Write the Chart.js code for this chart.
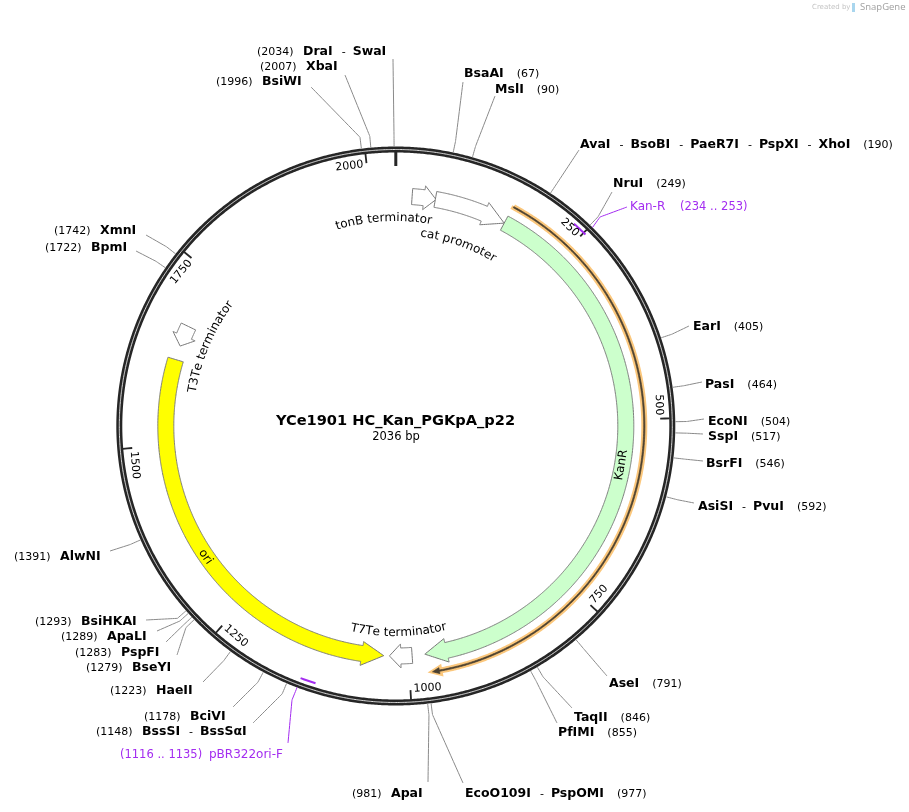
<!DOCTYPE html>
<html>
<head>
<meta charset="utf-8">
<style>
  html, body { margin: 0; padding: 0; background: #fff; }
  canvas { display: block; }
</style>
<script src="https://cdn.jsdelivr.net/npm/chart.js@4/dist/chart.umd.js"></script>
</head>
<body>
<canvas id="map" width="909" height="812"></canvas>
<script>
const plasmidName = 'YCe1901 HC_Kan_PGKpA_p22';
const plasmidLength = 2036;

const tickPositions = [250, 500, 750, 1000, 1250, 1500, 1750, 2000];

const siteLabels = ['DraI - SwaI', 'XbaI', 'BsiWI', 'BsaAI', 'MslI', 'AvaI - BsoBI - PaeR7I - PspXI - XhoI', 'NruI', 'EarI', 'PasI', 'EcoNI', 'SspI', 'BsrFI', 'AsiSI - PvuI', 'AseI', 'TaqII', 'PfIMI', 'EcoO109I - PspOMI', 'ApaI', 'BssSI - BssSαI', 'BciVI', 'HaeII', 'BseYI', 'PspFI', 'ApaLI', 'BsiHKAI', 'AlwNI', 'BpmI', 'XmnI'];
const sitePositions = [2034, 2007, 1996, 67, 90, 190, 249, 405, 464, 504, 517, 546, 592, 791, 846, 855, 977, 981, 1148, 1178, 1223, 1279, 1283, 1289, 1293, 1391, 1722, 1742];

const featureNames = ['tonB terminator', 'cat promoter', 'KanR', 'T7Te terminator', 'ori', 'T3Te terminator'];
const featureFrom = [23, 56, 159, 995, 1622, 1672];
const featureTo = [57, 159, 977, 1027, 1035, 1642];
const featureColors = ['#ffffff', '#ffffff', '#ccffcc', '#ffffff', '#ffff00', '#ffffff'];

const orfFrom = 160;
const orfTo = 970;

const primerNames = ['Kan-R', 'pBR322ori-F'];
const primerFrom = [234, 1116];
const primerTo = [253, 1135];

// layout, same order as siteLabels: where the name starts, where its leader stops
const siteNameX = [303, 306, 262, 464, 495, 580, 613, 693, 705, 708, 708, 706, 698, 609, 574, 558, 465, 391, 142, 190, 156, 132, 121, 107, 81, 60, 91, 100];
const siteNameY = [52, 67, 82, 74, 90, 145, 184, 327, 385, 422, 437, 464, 507, 684, 718, 733, 794, 794, 732, 717, 691, 668, 653, 637, 622, 557, 248, 231];
const leaderEndX = [393, 345, 311, 463, 495, 579, 612, 689, 702, 704, 703, 703, 694, 607, 572, 557, 463, 428, 253, 233, 203, 177, 166, 157, 146, 110, 136, 146];
const leaderEndY = [59, 75, 87, 82, 96, 150, 192, 326, 382, 419, 434, 461, 503, 676, 708, 723, 783, 782, 723, 707, 682, 655, 642, 631, 620, 551, 251, 235];

const cx = 395.8, cy = 426;
const ringR = 276.5, featureR = 230, orfR = 248.5, primerR = 269.5, elbowR = 291;
const inkFont = 'DejaVu Sans, Verdana, sans-serif';
const purple = '#a32cf0';

function toAngle(bp) {
  return bp / plasmidLength * 2 * Math.PI;
}

function polar(bp, r) {
  const a = toAngle(bp);
  return { x: cx + r * Math.sin(a), y: cy - r * Math.cos(a) };
}

function arc(from, to, r) {
  const pts = [];
  const n = Math.max(2, Math.ceil(Math.abs(to - from) / 4));
  for (let i = 0; i <= n; i++) pts.push(polar(from + (to - from) * i / n, r));
  return pts;
}

function arrowShape(from, to, rMid, body, head, headPx) {
  const bpPerPx = plasmidLength / (2 * Math.PI * rMid);
  const dir = to > from ? 1 : -1;
  const headLen = Math.min(headPx, Math.abs(to - from) / bpPerPx / 2) * bpPerPx;
  const base = to - dir * headLen;
  return [
    ...arc(from, base, rMid + body),
    polar(base, rMid + head),
    polar(to, rMid),
    polar(base, rMid - head),
    ...arc(base, from, rMid - body),
    polar(from, rMid + body)
  ];
}

const datasets = [];

// the tiny tension keeps Chart.js off its fast path, which merges points sharing an x pixel
function addLine(data, color, width, extra) {
  datasets.push(Object.assign({
    data,
    borderColor: color,
    borderWidth: width,
    showLine: true,
    pointRadius: 0,
    tension: 0.0001,
    fill: false,
    order: -datasets.length
  }, extra || {}));
}

addLine(arc(0, plasmidLength, ringR), '#262626', 6);
addLine(arc(0, plasmidLength, ringR), '#f4f4f4', 0.9);

addLine([polar(0, 274), polar(0, 260)], '#262626', 3);
tickPositions.forEach(bp => addLine([polar(bp, 274), polar(bp, 264.5)], '#262626', 1.8));

siteLabels.forEach((name, i) => {
  const bp = sitePositions[i];
  addLine([polar(bp, 279.5), polar(bp, elbowR), { x: leaderEndX[i], y: leaderEndY[i] }], '#8a8a8a', 1);
});

featureNames.forEach((name, i) => {
  addLine(arrowShape(featureFrom[i], featureTo[i], featureR, 8, 12, 22), '#777777', 1, {
    fill: 'shape',
    backgroundColor: featureColors[i]
  });
});

addLine(arrowShape(orfFrom, orfTo, orfR, 1, 3.5, 8), '#fbc77c', 4, { fill: 'shape', backgroundColor: '#fbc77c' });
addLine(arrowShape(orfFrom, orfTo, orfR, 0.6, 3, 7), '#4a4030', 0.8, { fill: 'shape', backgroundColor: '#4a4030' });

primerNames.forEach((name, i) => {
  addLine(arc(primerFrom[i], primerTo[i], primerR), purple, 2);
});
addLine([polar(primerTo[0], 279.5), { x: 600, y: 217 }, { x: 627, y: 207 }], purple, 1);
addLine([polar(primerTo[1], 279.5), { x: 292, y: 700 }, { x: 288, y: 743 }], purple, 1);

function rotatedText(ctx, text, x, y, deg, font, color, align) {
  ctx.save();
  ctx.translate(x, y);
  ctx.rotate(deg * Math.PI / 180);
  ctx.font = font;
  ctx.fillStyle = color;
  ctx.textAlign = align || 'center';
  ctx.textBaseline = 'middle';
  ctx.fillText(text, 0, 0);
  ctx.restore();
}

function tangentDeg(deg) {
  if (deg < 90) return deg;
  if (deg < 270) return deg - 180;
  return deg - 360;
}

// text bent along a circle; top of the letters faces out unless flipped
function arcText(ctx, text, deg, r, font, flipped) {
  ctx.save();
  ctx.font = font;
  ctx.fillStyle = '#000';
  ctx.textAlign = 'left';
  ctx.textBaseline = 'alphabetic';
  const total = ctx.measureText(text).width;
  let run = 0;
  for (const ch of text) {
    const w = ctx.measureText(ch).width;
    const off = (run + w / 2 - total / 2) / r;
    const a = deg * Math.PI / 180 + (flipped ? -off : off);
    ctx.save();
    ctx.translate(cx + r * Math.sin(a), cy - r * Math.cos(a));
    ctx.rotate(flipped ? a - Math.PI : a);
    ctx.fillText(ch, -w / 2, 0);
    ctx.restore();
    run += w;
  }
  ctx.restore();
}

function plainText(ctx, text, x, y, font, color, align) {
  ctx.font = font;
  ctx.fillStyle = color;
  ctx.textAlign = align || 'left';
  ctx.textBaseline = 'middle';
  ctx.fillText(text, x, y);
  return ctx.measureText(text).width;
}

const boldFont = 'bold 12.5px ' + inkFont;
const numFont = '11px ' + inkFont;
const primerNumFont = '11.5px ' + inkFont;

const textLayer = {
  id: 'textLayer',
  afterDatasetsDraw(chart) {
    const ctx = chart.ctx;
    ctx.save();

    // tick numbers always run on the counter-clockwise side of their tick
    tickPositions.forEach(bp => {
      const deg = bp / plasmidLength * 360;
      const top = deg < 90 || deg > 270;
      const p = polar(bp - 4, 263.5);
      rotatedText(ctx, String(bp), p.x, p.y, tangentDeg(deg), numFont, '#000', top ? 'right' : 'left');
    });

    siteLabels.forEach((label, i) => {
      const bp = sitePositions[i];
      const y = siteNameY[i];
      const num = '(' + bp + ')';
      let x = siteNameX[i];
      if (bp > 977) {
        ctx.font = numFont;
        plainText(ctx, num, x - 9.4 - ctx.measureText(num).width, y, numFont, '#000');
      }
      label.split(' - ').forEach((name, j) => {
        if (j > 0) {
          plainText(ctx, '-', x + 9, y, numFont, '#000');
          x += 20;
        }
        x += plainText(ctx, name, x, y, boldFont, '#000');
      });
      if (bp <= 977) plainText(ctx, num, x + 13, y, numFont, '#000');
    });

    plainText(ctx, primerNames[0], 630, 207, '12px ' + inkFont, purple);
    plainText(ctx, '(' + primerFrom[0] + ' .. ' + primerTo[0] + ')', 680, 207, primerNumFont, purple);
    plainText(ctx, primerNames[1], 209, 755, '12px ' + inkFont, purple);
    plainText(ctx, '(' + primerFrom[1] + ' .. ' + primerTo[1] + ')', 120, 755, primerNumFont, purple);

    const featFont = '12px ' + inkFont;
    arcText(ctx, featureNames[0], -3.4, 205, featFont, false);
    arcText(ctx, featureNames[1], 19, 191, featFont, false);
    arcText(ctx, featureNames[5], 292.8, 203, featFont, false);
    arcText(ctx, featureNames[3], 179.5, 210, featFont, true);
    rotatedText(ctx, featureNames[2], cx + 229 * Math.sin(99.8 * Math.PI / 180), cy - 229 * Math.cos(99.8 * Math.PI / 180), -80.7, featFont, '#000');
    rotatedText(ctx, featureNames[4], cx + 231 * Math.sin(235.5 * Math.PI / 180), cy - 231 * Math.cos(235.5 * Math.PI / 180), 55.5, featFont, '#000');

    plainText(ctx, plasmidName, 395.5, 421, 'bold 14.6px ' + inkFont, '#000', 'center');
    plainText(ctx, plasmidLength + ' bp', 396, 437, '11.5px ' + inkFont, '#000', 'center');

    plainText(ctx, 'Created by', 812, 7, '7px ' + inkFont, '#c4c4c4');
    ctx.fillStyle = '#a9d6ee';
    ctx.fillRect(852, 3, 3, 9);
    plainText(ctx, 'SnapGene', 860, 7, '9.5px Open Sans, ' + inkFont, '#a0a0a0');
    ctx.restore();
  }
};

new Chart(document.getElementById('map'), {
  type: 'scatter',
  data: { datasets },
  options: {
    responsive: false,
    animation: false,
    events: [],
    layout: { padding: 0 },
    plugins: { legend: { display: false }, tooltip: { enabled: false } },
    scales: {
      x: { type: 'linear', min: 0, max: 909, display: false },
      y: { type: 'linear', min: 0, max: 812, reverse: true, display: false }
    }
  },
  plugins: [textLayer]
});
</script>
</body>
</html>
